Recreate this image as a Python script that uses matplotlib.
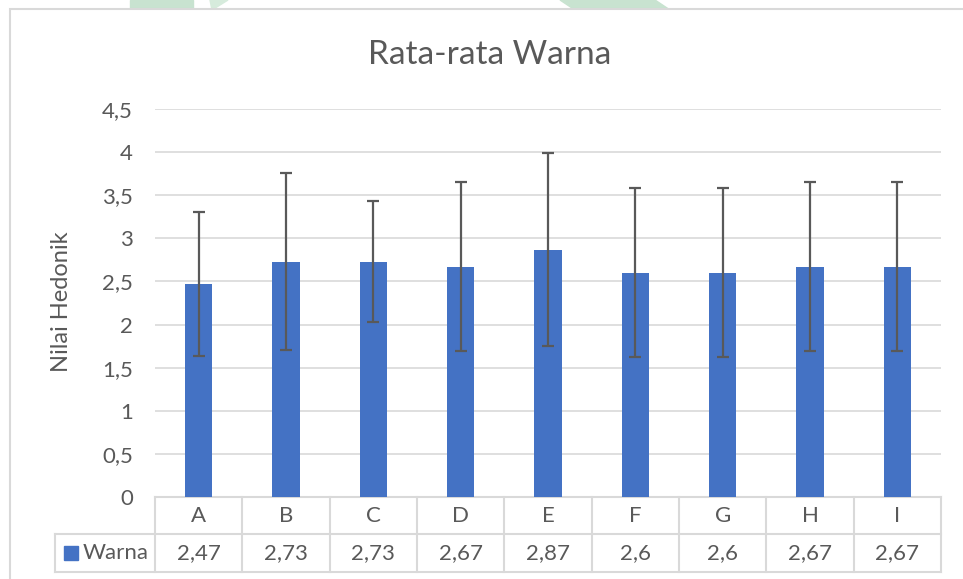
import matplotlib.pyplot as plt
from matplotlib.patches import Rectangle, Polygon
import matplotlib.transforms as mtransforms

plt.rcParams['font.family'] = ['Lato', 'DejaVu Sans']

categories = ['A', 'B', 'C', 'D', 'E', 'F', 'G', 'H', 'I']
means = [2.47, 2.73, 2.73, 2.67, 2.87, 2.6, 2.6, 2.67, 2.67]
sd = [0.84, 1.03, 0.70, 0.98, 1.12, 0.98, 0.98, 0.98, 0.98]
value_labels = ['2,47', '2,73', '2,73', '2,67', '2,87', '2,6', '2,6', '2,67', '2,67']
yticks = [0, 0.5, 1, 1.5, 2, 2.5, 3, 3.5, 4, 4.5]
series_name = 'Warna'

BLUE = '#4472C4'
TXT = '#595959'
GRID = '#D9D9D9'
FS = 16

W, H = 963, 579
fig = plt.figure(figsize=(W / 100, H / 100), dpi=100)

# faint watermark bits peeking out above the chart frame
fig.patches.append(Polygon([(130 / W, 1), (193 / W, 1), (193 / W, 1 - 10 / H), (130 / W, 1 - 10 / H)],
                           closed=True, transform=fig.transFigure, color='#C8E3D0', zorder=0))
fig.patches.append(Polygon([(210 / W, 1), (228 / W, 1), (212 / W, 1 - 10 / H)],
                           closed=True, transform=fig.transFigure, color='#D6EBDC', zorder=0))
fig.patches.append(Polygon([(560 / W, 1), (655 / W, 1), (670 / W, 1 - 10 / H), (575 / W, 1 - 10 / H)],
                           closed=True, transform=fig.transFigure, color='#C8E3D0', zorder=0))

# chart area frame
fig.patches.append(Rectangle((9.5 / W, -0.1), 1.2, 1.1 - 9.5 / H, transform=fig.transFigure,
                             facecolor='white', edgecolor=GRID, lw=1.5, zorder=1))

ax = fig.add_axes([155 / W, 1 - 497 / H, (941 - 155) / W, (497 - 109) / H])
ax.set_zorder(2)
ax.patch.set_alpha(0)

x = list(range(len(categories)))
ax.bar(x, means, width=0.31, color=BLUE, zorder=3)
ax.errorbar(x, means, yerr=sd, fmt='none', ecolor=TXT, elinewidth=1.6,
            capsize=4.5, capthick=1.6, zorder=4)

ax.set_xlim(-0.5, len(categories) - 0.5)
ax.set_ylim(0, 4.5)
ax.set_yticks(yticks)
ax.set_yticklabels([f'{t:g}'.replace('.', ',') for t in yticks])
ax.set_xticks([])
ax.tick_params(axis='y', length=0, pad=16, labelsize=FS, labelcolor=TXT)
ax.yaxis.grid(True, color=GRID, lw=1.2, zorder=0)
for s in ax.spines.values():
    s.set_visible(False)

# data table under the plot
tr = mtransforms.blended_transform_factory(ax.transData, ax.transAxes)
px = (497 - 109)  # axes height in pixels
y_mid = -(534 - 497) / px
y_bot = -(572 - 497) / px
left = -0.5 - (155 - 55) / ((941 - 155) / len(categories))
right = len(categories) - 0.5
line_kw = dict(color=GRID, lw=1.5, transform=tr, clip_on=False, zorder=1)
ax.plot([-0.5, right], [0, 0], **line_kw)
ax.plot([left, right], [y_mid, y_mid], **line_kw)
ax.plot([left, right], [y_bot, y_bot], **line_kw)
for i in range(len(categories) + 1):
    ax.plot([i - 0.5, i - 0.5], [0, y_bot], **line_kw)
ax.plot([left, left], [y_mid, y_bot], **line_kw)

for i, (c, v) in enumerate(zip(categories, value_labels)):
    ax.text(i, y_mid / 2, c, transform=tr, ha='center', va='center', fontsize=FS, color=TXT)
    ax.text(i, (y_mid + y_bot) / 2, v, transform=tr, ha='center', va='center', fontsize=FS, color=TXT)

ax.plot([left + 0.18], [(y_mid + y_bot) / 2], marker='s', ms=10, color=BLUE,
        transform=tr, clip_on=False, linestyle='none')
ax.text(left + 0.32, (y_mid + y_bot) / 2, series_name, transform=tr, ha='left', va='center',
        fontsize=FS, color=TXT)

fig.text(490 / W, 1 - 55 / H, 'Rata-rata Warna', ha='center', va='center', fontsize=24, color=TXT)
fig.text(61 / W, 1 - 302 / H, 'Nilai Hedonik', rotation=90, ha='center', va='center',
         fontsize=17, color=TXT)

fig.savefig('out.png', dpi=100)
